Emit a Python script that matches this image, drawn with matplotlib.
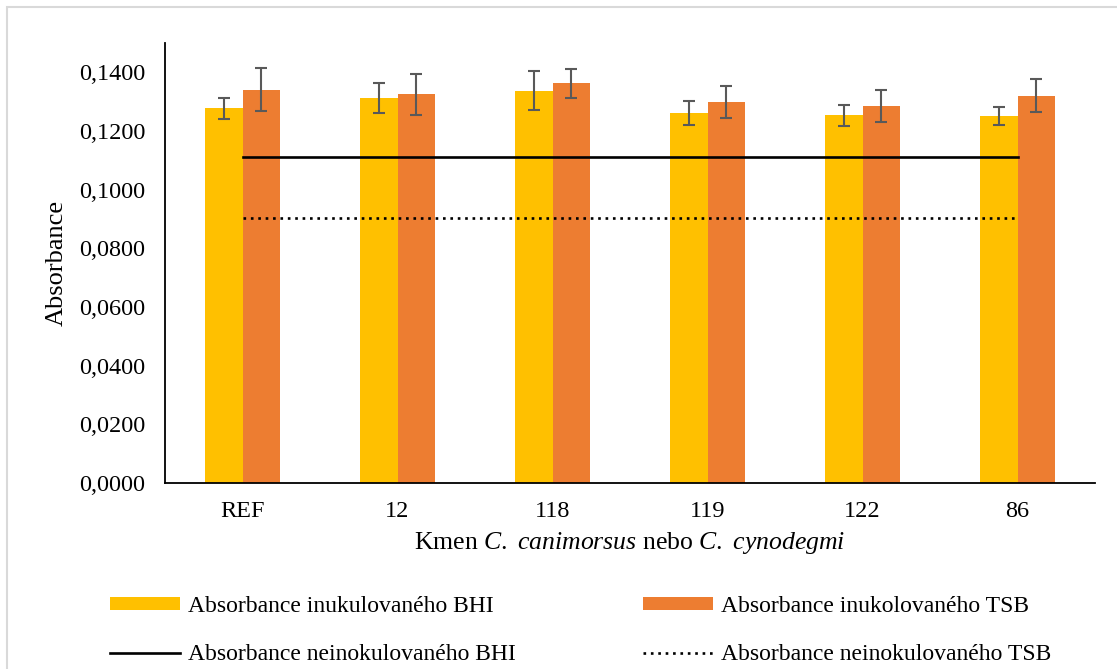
import numpy as np
import matplotlib.pyplot as plt
from matplotlib.patches import Rectangle, Patch
from matplotlib.lines import Line2D

plt.rcParams['font.family'] = ['Liberation Serif', 'DejaVu Serif']
plt.rcParams['mathtext.fontset'] = 'custom'
plt.rcParams['mathtext.it'] = 'Liberation Serif:italic'
plt.rcParams['mathtext.rm'] = 'Liberation Serif'

# data
strains = ["REF", "12", "118", "119", "122", "86"]
bhi = [0.1277, 0.1311, 0.1338, 0.1260, 0.1254, 0.1250]
bhi_err = [0.0036, 0.0051, 0.0066, 0.0041, 0.0036, 0.0031]
tsb = [0.1341, 0.1325, 0.1362, 0.1298, 0.1285, 0.1320]
tsb_err = [0.0074, 0.0070, 0.0051, 0.0054, 0.0055, 0.0056]
blank_bhi = [0.1112] * 6
blank_tsb = [0.0903] * 6

yticks = [0.0, 0.02, 0.04, 0.06, 0.08, 0.10, 0.12, 0.14]

yellow = "#FFC000"
orange = "#ED7D31"
errc = "#595959"

fig = plt.figure(figsize=(11.17, 6.69), dpi=100)
ax = fig.add_axes([165/1117, 1-483/669, 930/1117, 440/669])

x = np.arange(len(strains))
w = 0.24
ekw = dict(ecolor=errc, elinewidth=1.5, capsize=4.5, capthick=1.5)
ax.bar(x - w/2, bhi, w, color=yellow, yerr=bhi_err, error_kw=ekw, zorder=2)
ax.bar(x + w/2, tsb, w, color=orange, yerr=tsb_err, error_kw=ekw, zorder=2)
ax.plot(x, blank_bhi, color="black", lw=1.9, zorder=3)
ax.plot(x, blank_tsb, color="black", lw=1.9, ls=(0, (1, 1.8)), zorder=3)

ax.set_xlim(-0.5, 5.5)
ax.set_ylim(0, 0.15)
ax.set_yticks(yticks)
ax.set_yticklabels([f"{v:.4f}".replace(".", ",") for v in yticks])
ax.set_xticks(x)
ax.set_xticklabels(strains)
ax.tick_params(length=0, labelsize=17.5, colors="black")
ax.tick_params(axis="y", pad=14)
ax.tick_params(axis="x", pad=13)
for s in ["top", "right"]:
    ax.spines[s].set_visible(False)
for s in ["left", "bottom"]:
    ax.spines[s].set_linewidth(1.3)

ax.set_ylabel("Absorbance", fontsize=19, labelpad=8)
ax.set_xlabel(r"Kmen $\it{C.}$ $\it{canimorsus}$ nebo $\it{C.}$ $\it{cynodegmi}$", fontsize=18.5, labelpad=6)

# border around the chart area
fig.patches.append(Rectangle((7/1117, -0.1), 1.2, 1 - 7/669 + 0.1, transform=fig.transFigure,
                             fill=False, edgecolor="#D9D9D9", lw=1.5))

h1 = [Patch(facecolor=yellow, label="Absorbance inukulovaného BHI"),
      Line2D([], [], color="black", lw=1.9, label="Absorbance neinokulovaného BHI")]
h2 = [Patch(facecolor=orange, label="Absorbance inukolovaného TSB"),
      Line2D([], [], color="black", lw=1.9, ls=(0, (1, 1.8)), label="Absorbance neinokulovaného TSB")]
lkw = dict(loc="upper left", frameon=False, fontsize=17, handlelength=2.95, handleheight=0.5,
           handletextpad=0.35, labelspacing=1.15, borderpad=0, borderaxespad=0)
leg1 = fig.legend(handles=h1, bbox_to_anchor=(110/1117, 1-596/669), **lkw)
leg2 = fig.legend(handles=h2, bbox_to_anchor=(643/1117, 1-596/669), **lkw)

fig.savefig("out.png", dpi=100)
